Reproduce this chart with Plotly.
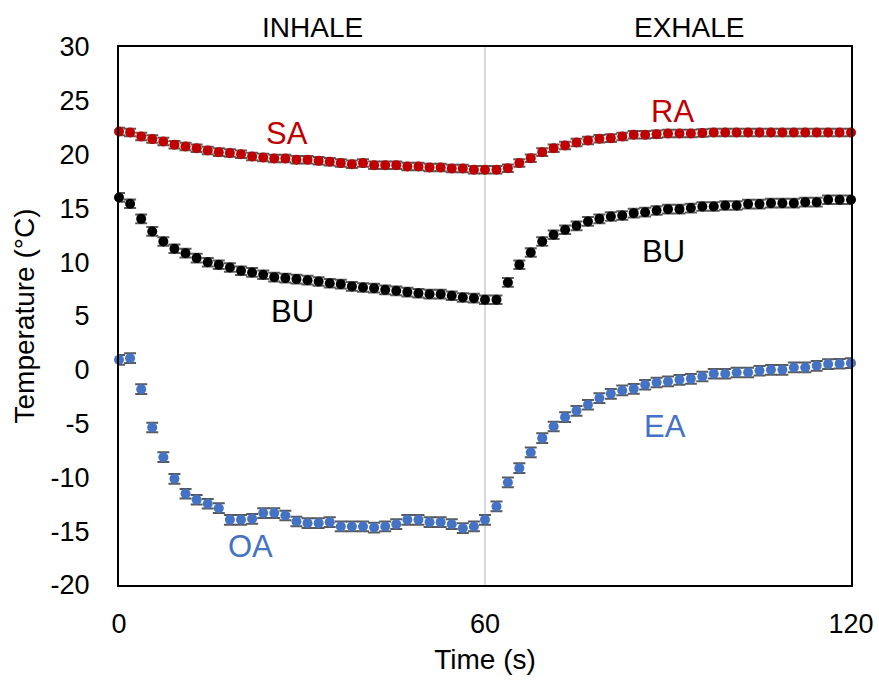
import plotly.graph_objects as go

# Time axis (s): 34 samples during inhale (0-60 s), 32 during exhale (60-120 s)
time_s = [0.0, 1.82, 3.64, 5.45, 7.27, 9.09, 10.91, 12.73, 14.55, 16.36, 18.18,
          20.0, 21.82, 23.64, 25.45, 27.27, 29.09, 30.91, 32.73, 34.55, 36.36,
          38.18, 40.0, 41.82, 43.64, 45.45, 47.27, 49.09, 50.91, 52.73, 54.55,
          56.36, 58.18, 60.0,
          61.88, 63.75, 65.63, 67.5, 69.38, 71.25, 73.13, 75.0, 76.88, 78.75,
          80.63, 82.5, 84.38, 86.25, 88.13, 90.0, 91.88, 93.75, 95.63, 97.5,
          99.38, 101.25, 103.13, 105.0, 106.88, 108.75, 110.63, 112.5, 114.38,
          116.25, 118.13, 120.0]

# SA / RA (red)
temp_red = [22.15, 22.06, 21.69, 21.44, 21.22, 20.91, 20.76, 20.60, 20.38, 20.23,
            20.14, 20.04, 19.83, 19.73, 19.64, 19.64, 19.52, 19.52, 19.42, 19.33,
            19.21, 19.11, 19.21, 19.02, 19.02, 19.02, 18.90, 18.90, 18.80, 18.80,
            18.71, 18.71, 18.59, 18.59,
            18.59, 18.74, 19.21, 19.67, 20.23, 20.60, 20.85, 21.13, 21.31, 21.47,
            21.53, 21.69, 21.84, 21.84, 21.90, 21.96, 21.96, 21.96, 22.00, 22.06,
            22.06, 22.06, 22.06, 22.06, 22.06, 22.06, 22.06, 22.06, 22.06, 22.06,
            22.06, 22.06]

# BU (black)
temp_black = [16.02, 15.43, 14.03, 12.86, 11.93, 11.25, 10.84, 10.38, 10.00, 9.76,
              9.51, 9.20, 9.05, 8.83, 8.61, 8.52, 8.43, 8.33, 8.21, 8.05,
              7.96, 7.75, 7.65, 7.59, 7.43, 7.34, 7.22, 7.12, 7.03, 7.03,
              6.88, 6.72, 6.66, 6.51,
              6.51, 8.12, 9.76, 10.90, 11.93, 12.55, 13.01, 13.38, 13.79, 14.03,
              14.25, 14.34, 14.56, 14.65, 14.80, 14.93, 14.93, 15.03, 15.18, 15.18,
              15.27, 15.27, 15.40, 15.40, 15.49, 15.49, 15.49, 15.58, 15.58, 15.80,
              15.80, 15.80]

# OA / EA (blue)
temp_blue = [0.93, 1.08, -1.80, -5.36, -8.12, -10.13, -11.52, -12.08, -12.45, -12.86,
             -13.94, -13.94, -13.85, -13.32, -13.32, -13.54, -14.10, -14.25, -14.25, -14.16,
             -14.56, -14.56, -14.56, -14.66, -14.56, -14.35, -13.94, -13.94, -14.16, -14.16,
             -14.35, -14.72, -14.56, -13.94,
             -12.70, -10.47, -9.14, -7.68, -6.35, -5.27, -4.40, -3.81, -3.25, -2.63,
             -2.23, -1.92, -1.77, -1.39, -1.18, -1.08, -0.93, -0.84, -0.62, -0.37,
             -0.37, -0.25, -0.25, -0.09, 0.00, 0.00, 0.22, 0.22, 0.37, 0.53,
             0.56, 0.62]

err_red = 0.35
err_black = 0.4
err_blue = 0.45

x_ticks = [0, 60, 120]
y_ticks = [-20, -15, -10, -5, 0, 5, 10, 15, 20, 25, 30]
y_tick_text = ["-20", "-15", "-10", "-5", "0", "5", "10", "15", "20", "25", "30"]

series = [
    (temp_red, err_red, "#C00000"),
    (temp_black, err_black, "#000000"),
    (temp_blue, err_blue, "#4472C4"),
]

region_labels = [("SA", 27.5, 22.0, "#C00000"), ("RA", 90.7, 24.0, "#C00000"),
                 ("BU", 28.4, 5.4, "#000000"), ("BU", 89.2, 11.0, "#000000"),
                 ("OA", 21.5, -16.4, "#4472C4"), ("EA", 89.5, -5.3, "#4472C4")]
phase_labels = [("INHALE", 31.7), ("EXHALE", 93.6)]

FONT = "Liberation Sans, Arial, sans-serif"

fig = go.Figure()
for vals, err, col in series:
    fig.add_trace(go.Scatter(
        x=time_s, y=vals, mode="markers",
        marker=dict(color=col, size=10, line=dict(width=0)),
        error_y=dict(type="constant", value=err, color="#595959",
                     thickness=2, width=6),
        showlegend=False, cliponaxis=False))

fig.add_shape(type="line", x0=60, x1=60, y0=-20, y1=30, xref="x", yref="y",
              line=dict(color="#D9D9D9", width=2), layer="below")

for txt, x, y, col in region_labels:
    fig.add_annotation(x=x, y=y, text=txt, showarrow=False,
                       font=dict(family=FONT, size=31, color=col))
for txt, x in phase_labels:
    fig.add_annotation(x=x, y=1.0, yref="paper", yanchor="bottom", yshift=2,
                       text=txt, showarrow=False,
                       font=dict(family=FONT, size=28, color="#000000"))

fig.update_xaxes(range=[0, 120], tickvals=x_ticks, showgrid=False,
                 zeroline=False, showline=True, mirror=True, linecolor="#000000",
                 linewidth=2, ticks="", ticklabelstandoff=14, automargin=False,
                 tickfont=dict(family=FONT, size=27, color="#000000"),
                 title=dict(text="Time (s)", standoff=11,
                            font=dict(family=FONT, size=28, color="#000000")))
fig.update_yaxes(range=[-20, 30], tickvals=y_ticks, ticktext=y_tick_text,
                 showgrid=False, zeroline=False, automargin=False,
                 showline=True, mirror=True, linecolor="#000000", linewidth=2,
                 ticks="", ticklabelstandoff=22,
                 tickfont=dict(family=FONT, size=27, color="#000000"),
                 title=dict(text="Temperature (°C)", standoff=8,
                            font=dict(family=FONT, size=28, color="#000000")))

fig.update_layout(width=879, height=680,
                  margin=dict(l=119, r=28, t=47, b=95),
                  plot_bgcolor="white", paper_bgcolor="white")

fig.write_html("out.html")
